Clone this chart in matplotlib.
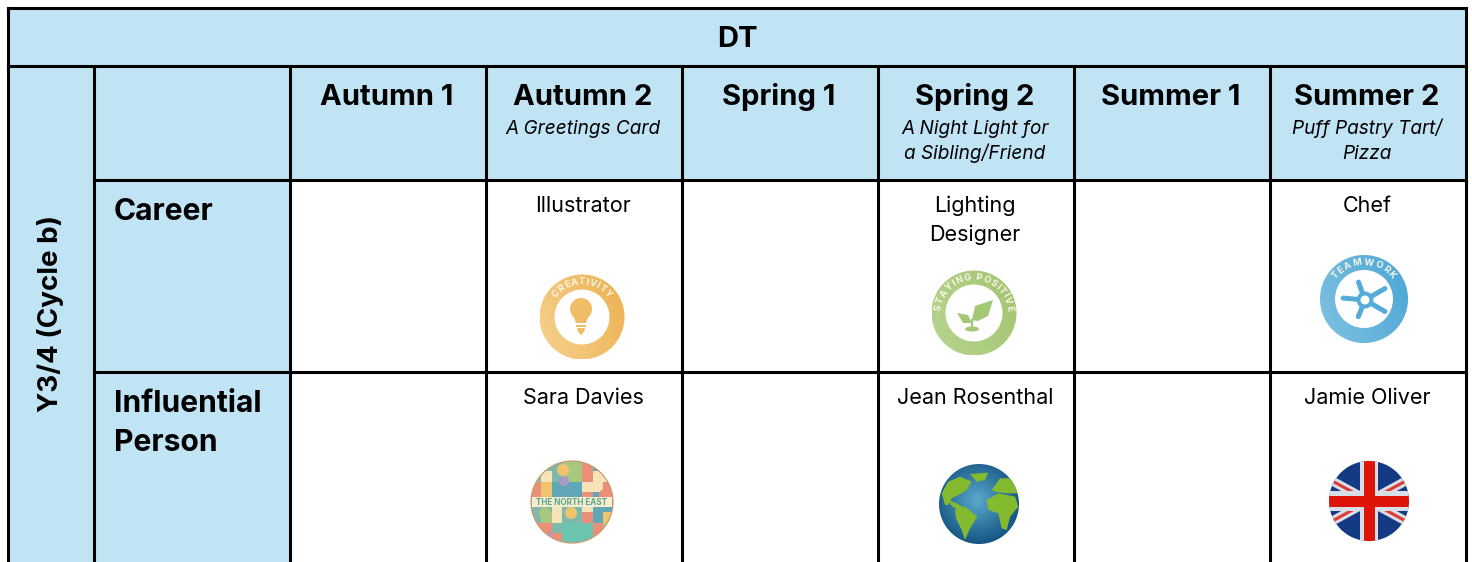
import numpy as np
import matplotlib

matplotlib.use("Agg")
import matplotlib.pyplot as plt
from matplotlib.colors import to_rgb
from matplotlib.font_manager import FontProperties
from matplotlib.patches import Circle, Ellipse, Polygon, Rectangle
from matplotlib.textpath import TextToPath

FONT = "Inter"
HEADER_BLUE = "#c1e4f5"

title = "DT"
row_title = "Y3/4 (Cycle b)"
terms = ["Autumn 1", "Autumn 2", "Spring 1", "Spring 2", "Summer 1", "Summer 2"]
projects = ["", "A Greetings Card", "", "A Night Light for\na Sibling/Friend", "", "Puff Pastry Tart/\nPizza"]
row_labels = ["Career", "Influential\nPerson"]
careers = ["", "Illustrator", "", "Lighting\nDesigner", "", "Chef"]
people = ["", "Sara Davies", "", "Jean Rosenthal", "", "Jamie Oliver"]

# grid lines in pixels
col_x = [94, 290, 486, 682, 878, 1074, 1270, 1466]
row_y = [8, 66, 180, 372, 575]

TEAL, CORAL, YELLOW, GREEN = "#7fb9ad", "#eb8f78", "#f0c36d", "#a9c77f"
LILAC, CREAM, BLUE, MINT = "#a79ac6", "#f6e3b8", "#5fa7b8", "#6cc4ae"
north_east_colors = [
    [TEAL, TEAL, TEAL, GREEN, GREEN, CORAL, BLUE, TEAL],
    [TEAL, CREAM, TEAL, GREEN, GREEN, CORAL, CREAM, CREAM],
    [CORAL, YELLOW, BLUE, BLUE, BLUE, CREAM, CREAM, CORAL],
    [CORAL, YELLOW, BLUE, BLUE, BLUE, CORAL, BLUE, CORAL],
    [TEAL, TEAL, CREAM, TEAL, TEAL, CREAM, BLUE, BLUE],
    [TEAL, GREEN, CREAM, TEAL, TEAL, CORAL, BLUE, YELLOW],
    [CORAL, CORAL, TEAL, MINT, MINT, MINT, CORAL, GREEN],
    [CORAL, LILAC, CORAL, MINT, MINT, MINT, CORAL, GREEN],
]
# small round shapes on the tiles: offset x, offset y, radius, colour
north_east_dots = [
    (-9, -32, 6, YELLOW),
    (-8, -21, 5, LILAC),
    (33, -7, 6, CORAL),
    (-1, 11, 6, YELLOW),
    (-27, 11, 6, GREEN),
]

globe_land = [
    [(65, 130), (85, 95), (120, 80), (155, 95), (140, 120), (115, 135), (95, 145), (85, 165), (75, 165)],
    [(150, 72), (205, 68), (195, 90), (170, 95)],
    [(85, 150), (110, 160), (130, 172), (115, 180), (95, 168)],
    [(105, 180), (135, 170), (172, 200), (150, 235), (135, 270), (125, 240), (108, 205)],
    [(200, 150), (235, 130), (285, 140), (295, 170), (270, 200), (260, 240), (245, 235), (235, 190), (205, 180)],
    [(215, 120), (240, 85), (275, 85), (297, 130), (260, 130), (225, 125)],
]


def cell_text(ax, x, y, text, size, weight="normal", style="normal", ha="center", spacing=0):
    # y is the baseline of the first line, spacing is in pixels
    for i, line in enumerate(text.split("\n")):
        ax.text(x, y + i * spacing, line, fontsize=size, fontweight=weight, fontstyle=style, ha=ha, va="baseline",
                family=FONT, color="black", zorder=5)


def gradient_disc(ax, cx, cy, r, inner, outer, zorder=3):
    n = 80
    xx, yy = np.meshgrid(np.linspace(-1, 1, n), np.linspace(-1, 1, n))
    t = np.clip((xx - yy * 0.4 + 1.2) / 2.4, 0, 1)[..., None]
    rgb = (1 - t) * np.array(to_rgb(inner)) + t * np.array(to_rgb(outer))
    img = ax.imshow(rgb, extent=(cx - r, cx + r, cy + r, cy - r), zorder=zorder, interpolation="bilinear", aspect="auto")
    img.set_clip_path(Circle((cx, cy), r, transform=ax.transData))


def arc_text(ax, cx, cy, r, text, start, end, size):
    # letters go round the ring one at a time, spaced by their own widths, angles in degrees from the top
    prop = FontProperties(family=FONT, weight="bold", size=size)
    measure = TextToPath()
    widths = np.array([measure.get_text_width_height_descent(c, prop, False)[0] for c in text])
    edges = np.concatenate([[0], np.cumsum(widths)])
    mids = (edges[:-1] + edges[1:]) / 2 / edges[-1]
    for letter, t in zip(text, mids):
        angle = start + (end - start) * t
        a = np.radians(angle)
        ax.text(cx + r * np.sin(a), cy - r * np.cos(a), letter, fontsize=size, fontweight="bold", family=FONT,
                color="#fbf6ea", ha="center", va="center", rotation=-angle, zorder=6)


def ring_icon(ax, cx, cy, r, inner_r, c1, c2, text, start, end, size):
    gradient_disc(ax, cx, cy, r, c1, c2)
    ax.add_patch(Circle((cx, cy), inner_r, fc="white", ec="none", zorder=4))
    arc_text(ax, cx, cy, (r + inner_r) / 2, text, start, end, size)


def draw_creativity(ax):
    cx, cy = 582, 317
    ring_icon(ax, cx, cy, 42.5, 27.5, "#f5cf8a", "#edb354", "CREATIVITY", -54, 54, 6.6)
    c = "#f0bd66"
    ax.add_patch(Circle((cx - 1, cy - 8), 11, fc=c, ec="none", zorder=5))
    ax.add_patch(Polygon([(cx - 9, cy - 2), (cx + 7, cy - 2), (cx + 4, cy + 6), (cx - 6, cy + 6)], fc=c, ec="none", zorder=5))
    ax.add_patch(Rectangle((cx - 6, cy + 7.5), 10, 2.5, fc=c, ec="none", zorder=5))
    ax.add_patch(Polygon([(cx - 5, cy + 11), (cx + 3, cy + 11), (cx + 2, cy + 15), (cx - 1, cy + 18), (cx - 4, cy + 15)],
                         fc=c, ec="none", zorder=5))


def draw_positive(ax):
    cx, cy = 974, 313
    ring_icon(ax, cx, cy, 42.5, 28.5, "#b6d38d", "#a3c673", "STAYING POSITIVE", -88, 88, 6.6)
    c = "#a5c877"
    ax.add_patch(Polygon([(cx - 2, cy + 7), (cx + 1, cy - 7), (cx + 19, cy - 13), (cx + 14, cy + 3), (cx + 4, cy + 8)],
                         fc=c, ec="none", zorder=5))
    ax.add_patch(Polygon([(cx - 17, cy), (cx - 6, cy + 2), (cx - 2, cy + 10), (cx - 11, cy + 10)], fc=c, ec="none", zorder=5))
    ax.add_patch(Ellipse((cx - 2, cy + 16), 14, 5, fc=c, ec="none", zorder=5))
    ax.plot([cx - 2, cx - 2], [cy + 7, cy + 15], color=c, lw=1.6, zorder=5)


def draw_teamwork(ax):
    cx, cy = 1364, 299
    ring_icon(ax, cx, cy, 44, 29, "#7cc0e0", "#4ea8d6", "TEAMWORK", -56, 56, 6.6)
    c = "#56acd8"
    hub_x, hub_y = cx + 1, cy + 1
    for angle, length in [(-110, 19), (-30, 23), (30, 23), (112, 18), (185, 22)]:
        a = np.radians(angle)
        ax.plot([hub_x + 5 * np.cos(a), hub_x + length * np.cos(a)], [hub_y + 5 * np.sin(a), hub_y + length * np.sin(a)],
                color=c, lw=3.6, solid_capstyle="round", zorder=5)
    ax.add_patch(Circle((hub_x, hub_y), 8.5, fc=c, ec="none", zorder=5))
    ax.add_patch(Circle((hub_x, hub_y), 4.5, fc="white", ec="none", zorder=6))


def draw_north_east(ax):
    cx, cy, r = 572, 502, 41
    disc = Circle((cx, cy), r, transform=ax.transData)
    size = 2 * r / 8
    for i, row in enumerate(north_east_colors):
        for j, color in enumerate(row):
            tile = ax.add_patch(Rectangle((cx - r + j * size, cy - r + i * size), size, size, fc=color, ec="none", zorder=3))
            tile.set_clip_path(disc)
    for dx, dy, dot_r, color in north_east_dots:
        dot = ax.add_patch(Circle((cx + dx, cy + dy), dot_r, fc=color, ec="none", zorder=3.5))
        dot.set_clip_path(disc)
    ax.add_patch(Rectangle((cx - r + 1, cy - 5), 2 * r - 2, 10, fc="#f6ecd0", ec="none", zorder=4))
    ax.text(cx, cy + 0.5, "THE NORTH EAST", fontsize=5.9, fontweight="bold", family=FONT, color="#5aa88f",
            ha="center", va="center", zorder=5)
    ax.add_patch(Circle((cx, cy), r, fc="none", ec="#c99a6e", lw=0.9, zorder=5))


def draw_globe(ax):
    cx, cy, r = 979, 504, 40
    n = 120
    xx, yy = np.meshgrid(np.linspace(-1, 1, n), np.linspace(-1, 1, n))
    dist = np.clip(np.hypot(xx + 0.05, yy + 0.1) / 1.2, 0, 1)[..., None]
    rgb = (1 - dist) * np.array(to_rgb("#5aa9cc")) + dist * np.array(to_rgb("#0f4f7d"))
    img = ax.imshow(rgb, extent=(cx - r, cx + r, cy + r, cy - r), zorder=3, aspect="auto")
    disc = Circle((cx, cy), r, transform=ax.transData)
    img.set_clip_path(disc)
    for land in globe_land:
        patch = ax.add_patch(Polygon([(920 + px / 3, 450 + py / 3) for px, py in land], fc="#84bb2e", ec="none", zorder=4))
        patch.set_clip_path(disc)


def draw_flag(ax):
    cx, cy, r = 1369, 501, 40
    disc = Circle((cx, cy), r, transform=ax.transData)
    parts = [ax.add_patch(Rectangle((cx - r, cy - r), 2 * r, 2 * r, fc="#153a84", ec="none", zorder=3))]
    for sign in (1, -1):
        dx, dy = 44, sign * 24
        parts += ax.plot([cx - dx, cx + dx], [cy - dy, cy + dy], color="#d9dde6", lw=6.5, zorder=4)
        parts += ax.plot([cx - dx, cx + dx], [cy - dy, cy + dy], color="#df3a34", lw=2.2, zorder=4)
    parts.append(ax.add_patch(Rectangle((cx - 9, cy - r), 18, 2 * r, fc="#d9dde6", ec="none", zorder=5)))
    parts.append(ax.add_patch(Rectangle((cx - r, cy - 10), 2 * r, 20, fc="#d9dde6", ec="none", zorder=5)))
    parts.append(ax.add_patch(Rectangle((cx - 5.5, cy - r), 11, 2 * r, fc="#dd1408", ec="none", zorder=6)))
    parts.append(ax.add_patch(Rectangle((cx - r, cy - 5.5), 2 * r, 11, fc="#dd1408", ec="none", zorder=6)))
    for part in parts:
        part.set_clip_path(disc)


def draw_grid(ax):
    left, right = 8, col_x[-1]
    header_cells = [
        (left, row_y[0], right - left, row_y[1] - row_y[0]),
        (left, row_y[1], col_x[0] - left, row_y[-1] - row_y[1]),
        (col_x[0], row_y[1], right - col_x[0], row_y[2] - row_y[1]),
        (col_x[0], row_y[2], col_x[1] - col_x[0], row_y[-1] - row_y[2]),
    ]
    for x, y, w, h in header_cells:
        ax.add_patch(Rectangle((x, y), w, h, fc=HEADER_BLUE, ec="none", zorder=1))

    line = dict(color="black", lw=2.2, solid_capstyle="projecting", zorder=2)
    ax.plot([left, right], [row_y[0], row_y[0]], **line)
    for y in row_y[1:4]:
        ax.plot([left if y == row_y[1] else col_x[0], right], [y, y], **line)
    ax.plot([left, left], [row_y[0], row_y[-1]], **line)
    ax.plot([right, right], [row_y[0], row_y[-1]], **line)
    for x in col_x[:-1]:
        ax.plot([x, x], [row_y[1], row_y[-1]], **line)


def main():
    fig = plt.figure(figsize=(14.72, 5.62), dpi=100)
    ax = fig.add_axes([0, 0, 1, 1])
    ax.axis("off")

    draw_grid(ax)

    cell_text(ax, 737, 47, title, 21, weight="bold")
    ax.text(58, 313.5, row_title, fontsize=20, fontweight="bold", family=FONT, rotation=90, ha="center", va="baseline",
            rotation_mode="anchor", color="black", zorder=5)

    centers = [(a + b) / 2 for a, b in zip(col_x[1:-1], col_x[2:])]
    for x, term, project, career, person in zip(centers, terms, projects, careers, people):
        x -= 1
        cell_text(ax, x, 105, term, 21, weight="bold")
        if project:
            cell_text(ax, x, 134, project, 13.7, style="italic", spacing=25)
        if career:
            cell_text(ax, x, 212, career, 15.5, spacing=29)
        if person:
            cell_text(ax, x, 404, person, 15.5)

    cell_text(ax, 114, 220, row_labels[0], 21.6, weight="bold", ha="left")
    cell_text(ax, 114, 412, row_labels[1], 21.6, weight="bold", ha="left", spacing=39)

    draw_creativity(ax)
    draw_positive(ax)
    draw_teamwork(ax)
    draw_north_east(ax)
    draw_globe(ax)
    draw_flag(ax)

    ax.set_xlim(0, 1472)
    ax.set_ylim(562, 0)
    fig.savefig("out.png", dpi=100, facecolor="white")
    plt.close(fig)


if __name__ == "__main__":
    main()
